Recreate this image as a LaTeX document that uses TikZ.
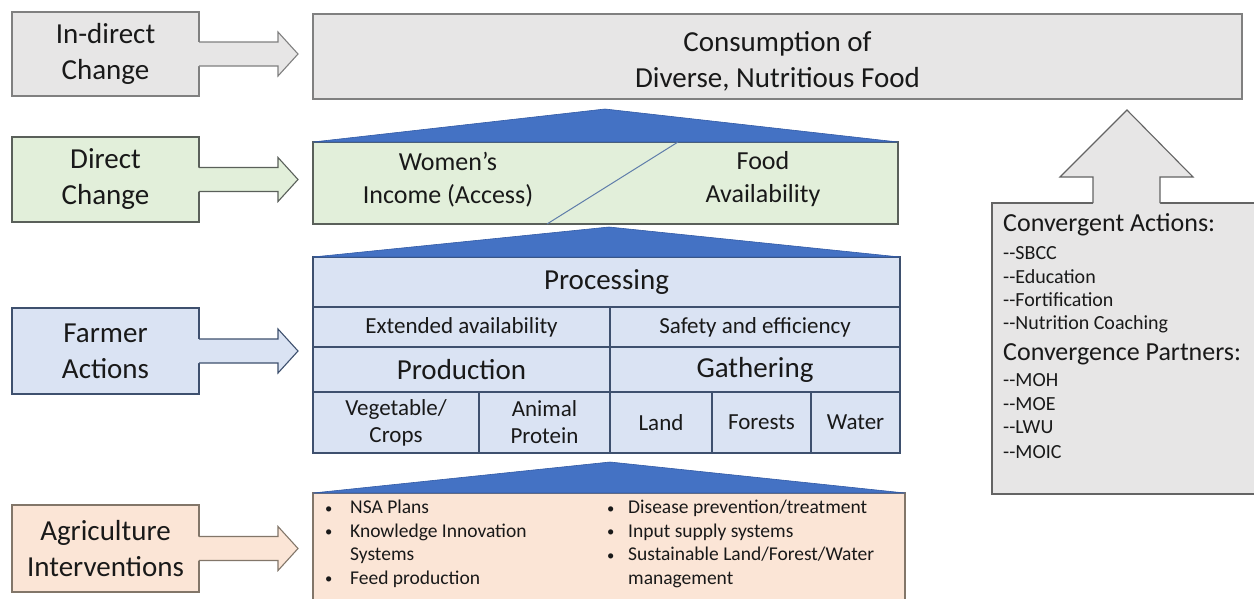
\documentclass[tikz,border=0pt]{standalone}
\usepackage{fontspec}
\setmainfont{Carlito}
\usetikzlibrary{calc}

\definecolor{grayfill}{RGB}{231,230,230}
\definecolor{grayline}{RGB}{128,128,128}
\definecolor{darkline}{RGB}{100,100,100}
\definecolor{greenfill}{RGB}{226,239,218}
\definecolor{greenline}{RGB}{90,96,90}
\definecolor{bluefill}{RGB}{218,227,243}
\definecolor{blueline}{RGB}{62,80,110}
\definecolor{trifill}{RGB}{68,114,196}
\definecolor{triline}{RGB}{50,90,165}
\definecolor{orangefill}{RGB}{251,229,214}
\definecolor{orangeline}{RGB}{130,118,105}
\definecolor{diagline}{RGB}{95,125,170}
\definecolor{txt}{RGB}{25,25,25}

% small list bullet
\newcommand{\bul}{\raisebox{0.5pt}{\scalebox{0.75}{\textbullet}}}

% side block arrow leaving the right edge of a label box
\newcommand{\sidearrow}[3]{%
  \fill[#2] ([xshift=-1.5pt]#1.east) ++(0,-12) -- ++(80.5,0) -- ++(0,-10)
    -- ++(20,22) -- ++(-20,22) -- ++(0,-10) -- ++(-80.5,0) -- cycle;
  \draw[#3, line width=1.1pt, line join=miter] (#1.east) ++(0,-12) -- ++(79,0)
    -- ++(0,-10) -- ++(20,22) -- ++(-20,22) -- ++(0,-10) -- ++(-79,0);
}

\begin{document}
\begin{tikzpicture}[x=1pt,y=-1pt,
  box/.style={rectangle, inner sep=0pt, outer sep=0pt, line width=1.2pt, align=center, text=txt},
  big/.style={font=\fontsize{29}{36}\selectfont},
  mid/.style={font=\fontsize{26}{33}\selectfont},
  small/.style={font=\fontsize{23}{27}\selectfont},
  cell/.style={box, fill=bluefill, draw=blueline},
  tri/.style={fill=trifill, draw=triline, line width=0.6pt, line join=round},
  lbltext/.style={align=center, text=txt, inner sep=0pt},
  rtext/.style={anchor=base west, inner sep=0pt, text=txt},
  rhead/.style={rtext, font=\fontsize{26}{30}\selectfont},
  ritem/.style={rtext, font=\fontsize{20}{24}\selectfont}
]
\useasboundingbox (0,0) rectangle (1254,598);
\fill[white] (0,0) rectangle (1254,598);
\clip (0,0) rectangle (1254,598);

% ---- left column labels ----
\node[box, big, fill=grayfill, draw=grayline, minimum width=187, minimum height=84] (indirect) at (105.5,54) {In-direct\\Change};
\node[box, big, fill=greenfill, draw=greenline, minimum width=187, minimum height=85] (direct) at (105.5,179.5) {Direct\\Change};
\node[box, big, fill=bluefill, draw=blueline, minimum width=187, minimum height=86] (farmer) at (105.5,351) {Farmer\\Actions};
\node[box, big, fill=orangefill, draw=orangeline, minimum width=187, minimum height=87] (agri) at (105.5,548.5) {Agriculture\\Interventions};

% ---- roof triangles ----
\coordinate (apexA) at (605,109);
\coordinate (apexB) at (609,227);
\coordinate (apexC) at (610,462);

% ---- goal box ----
\node[box, fill=grayfill, draw=grayline, minimum width=929, minimum height=85] (consume) at (777.5,56.5) {};
\node[lbltext, big] (consumetext) at (777.5,61) {Consumption of\\Diverse, Nutritious Food};

% ---- direct change box ----
\node[box, fill=greenfill, draw=greenline, minimum width=585, minimum height=82] (change) at (605.5,183) {};
\draw[tri] (change.north west) -- (apexA) -- (change.north east) -- cycle;
\coordinate (diagtop) at (678,142);
\coordinate (diagbot) at (547,224);
\draw[diagline, line width=1pt] (diagtop) -- (diagbot);
\node[lbltext, mid] (women) at (448,179.5) {Women’s\\Income (Access)};
\node[lbltext, mid] (food) at (763,179.5) {Food\\Availability};

% ---- farmer actions block ----
\node[cell, big, minimum width=587, minimum height=50] (proc) at (606.5,282) {Processing};
\draw[tri] (proc.north west) -- (apexB) -- (proc.north east) -- cycle;
\node[cell, small, minimum width=297, minimum height=40] (extav) at (461.5,327) {Extended availability};
\node[cell, small, minimum width=290, minimum height=40] (safe) at (755,327) {Safety and efficiency};
\node[cell, big, minimum width=297, minimum height=45] (prodn) at (461.5,369.5) {Production};
\node[cell, big, minimum width=290, minimum height=45] (gath) at (755,369.5) {Gathering};
\node[cell, small, minimum width=166, minimum height=61] (veg) at (396,422.5) {Vegetable/\\Crops};
\node[cell, small, minimum width=131, minimum height=61] (anim) at (544.5,422.5) {Animal\\Protein};
\node[cell, small, minimum width=102, minimum height=61] (land) at (661,422.5) {Land};
\node[cell, small, minimum width=99, minimum height=61] (forest) at (761.5,422.5) {Forests};
\node[cell, small, minimum width=89, minimum height=61] (water) at (855.5,422.5) {Water};

% ---- interventions box ----
\node[box, fill=orangefill, draw=orangeline, minimum width=592, minimum height=113] (interv) at (609,549.5) {};
\draw[tri] (interv.north west) -- (apexC) -- (interv.north east) -- cycle;
\node[anchor=north west, inner sep=0pt, text=txt, font=\fontsize{19.5}{23.5}\selectfont] (leftlist) at (325,497)
  {\begin{tabular}{@{}p{25pt}@{}l@{}}
   \bul & NSA Plans\\
   \bul & Knowledge Innovation\\
        & Systems\\
   \bul & Feed production
   \end{tabular}};
\node[anchor=north west, inner sep=0pt, text=txt, font=\fontsize{19.5}{23.5}\selectfont] (rightlist) at (607,497)
  {\begin{tabular}{@{}p{21pt}@{}l@{}}
   \bul & Disease prevention/treatment\\
   \bul & Input supply systems\\
   \bul & Sustainable Land/Forest/Water\\
        & management
   \end{tabular}};

% ---- side arrows from labels to levels ----
\sidearrow{indirect}{grayfill}{grayline}
\sidearrow{direct}{greenfill}{greenline}
\sidearrow{farmer}{bluefill}{blueline}
\sidearrow{agri}{orangefill}{orangeline}

% ---- convergence panel with up arrow ----
\node[box, fill=grayfill, draw=darkline, minimum width=280, minimum height=291] (conv) at (1132,348.5) {};
\fill[grayfill] (conv.north west) ++(101,1.5) -- ++(0,-27.5) -- ++(-33,0) -- ++(67,-67)
  -- ++(66,67) -- ++(-33,0) -- ++(0,27.5) -- cycle;
\draw[darkline, line width=1.1pt, line join=miter] (conv.north west) ++(101,0) -- ++(0,-26) -- ++(-33,0)
  -- ++(67,-67) -- ++(66,67) -- ++(-33,0) -- ++(0,26);

\node[rhead] (ca) at (1003,231.5) {Convergent Actions:};
\node[ritem] (c1) at (1003,259.6) {-{}-SBCC};
\node[ritem] (c2) at (1003,283.6) {-{}-Education};
\node[ritem] (c3) at (1003,306.6) {-{}-Fortification};
\node[ritem] (c4) at (1003,329.6) {-{}-Nutrition Coaching};
\node[rhead] (cp) at (1003,360.6) {Convergence Partners:};
\node[ritem] (p1) at (1003,386.6) {-{}-MOH};
\node[ritem] (p2) at (1003,410.6) {-{}-MOE};
\node[ritem] (p3) at (1003,433.6) {-{}-LWU};
\node[ritem] (p4) at (1003,458.6) {-{}-MOIC};
\end{tikzpicture}
\end{document}
